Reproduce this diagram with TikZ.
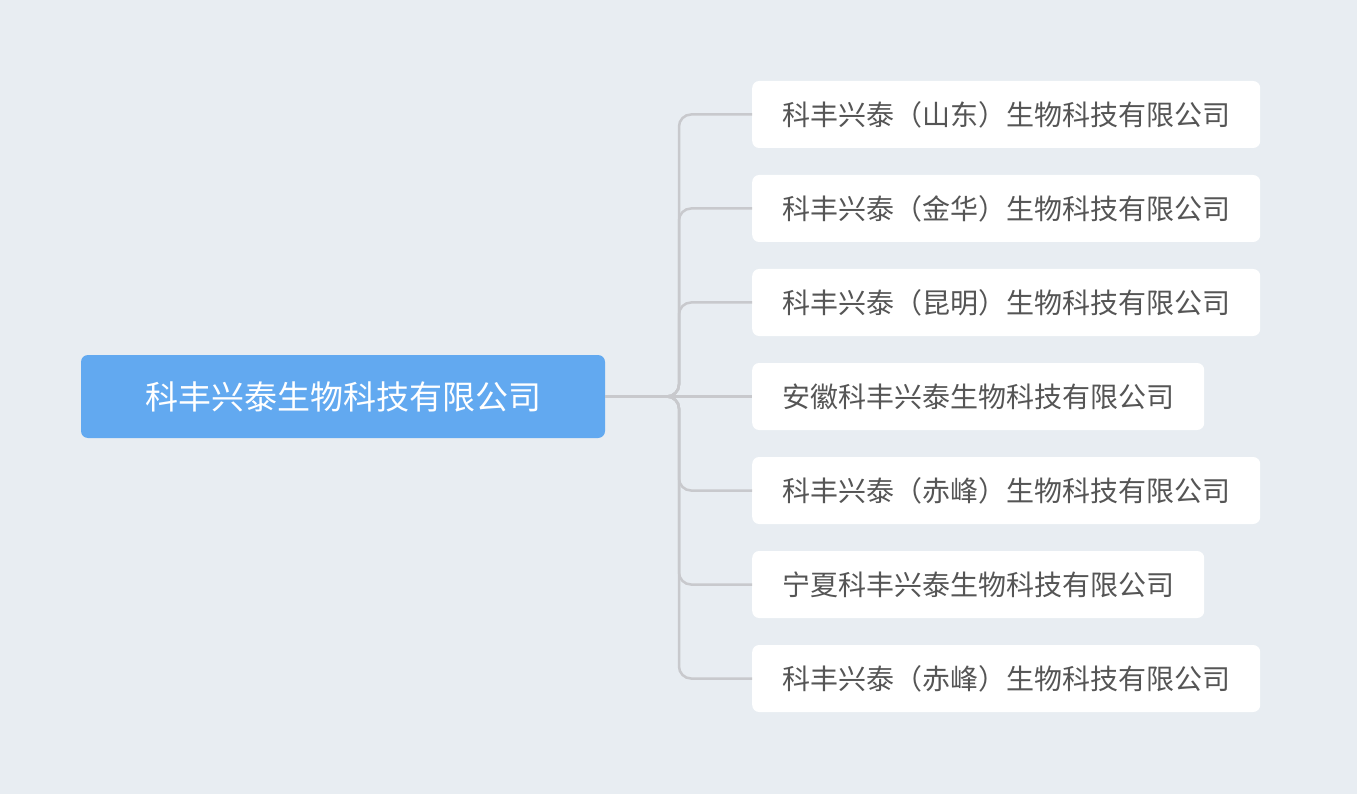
\documentclass[tikz,border=0pt]{standalone}
\usepackage{fontspec}
\setmainfont{Noto Sans CJK SC}
\definecolor{bg}{HTML}{E8EDF2}
\definecolor{rootc}{HTML}{62A9F0}
\definecolor{linec}{HTML}{C8C9CD}
\definecolor{txt}{HTML}{555555}
\tikzset{
  child/.style={fill=white,rounded corners=7pt,anchor=west,inner xsep=30pt,minimum height=67pt,font=\fontsize{28}{30}\selectfont,text=txt},
  conn/.style={draw=linec,line width=2.5pt,rounded corners=12pt}
}
\begin{document}
\begin{tikzpicture}[x=1pt,y=-1pt]
\fill[bg] (0,0) rectangle (1357,794);
\useasboundingbox (0,0) rectangle (1357,794);
\node[fill=rootc,rounded corners=7pt,minimum width=524pt,minimum height=83pt,text=white,font=\fontsize{33}{35}\selectfont] (root) at (343,396.5) {科丰兴泰生物科技有限公司};
\node[child] (c1) at (752,114.5) {科丰兴泰（山东）生物科技有限公司};
\node[child] (c2) at (752,208.5) {科丰兴泰（金华）生物科技有限公司};
\node[child] (c3) at (752,302.5) {科丰兴泰（昆明）生物科技有限公司};
\node[child] (c4) at (752,396.5) {安徽科丰兴泰生物科技有限公司};
\node[child] (c5) at (752,490.5) {科丰兴泰（赤峰）生物科技有限公司};
\node[child] (c6) at (752,584.5) {宁夏科丰兴泰生物科技有限公司};
\node[child] (c7) at (752,678.5) {科丰兴泰（赤峰）生物科技有限公司};
\coordinate (t) at (679,396.5);
\foreach \c in {c1,c2,c3,c5,c6,c7}{
  \draw[conn] (root.east) -- (t) |- (\c.west);
}
\draw[conn] (root.east) -- (c4.west);
\end{tikzpicture}
\end{document}
